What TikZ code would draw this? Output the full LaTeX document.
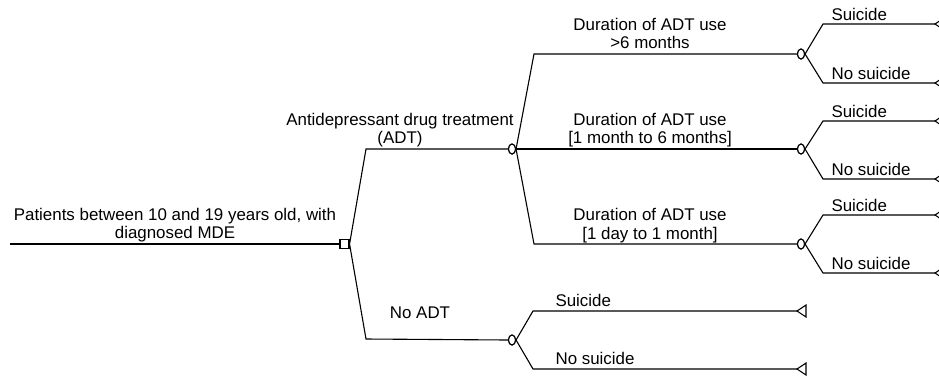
\documentclass[tikz,border=0pt]{standalone}
\usepackage{fontspec}
\setmainfont{Liberation Sans}
\usetikzlibrary{shapes.geometric}
\begin{document}
\begin{tikzpicture}[x=1pt,y=-1pt,
  line width=1.1pt,
  lbl/.style={font=\fontsize{16.9}{18}\selectfont, inner sep=0pt, anchor=base},
  lblw/.style={lbl, anchor=base west},
  decis/.style={draw, rectangle, fill=white, minimum size=9pt, inner sep=0pt},
  chance/.style={draw, ellipse, fill=white, minimum width=7pt, minimum height=10pt, inner sep=0pt},
  termtri/.style={draw, line join=miter}
]
\useasboundingbox (0,0) rectangle (939,376);

% nodes
\coordinate (root) at (10,244);
\node[decis] (sq) at (344.5,244) {};
\node[chance] (cA) at (512,149) {};
\node[chance] (cN) at (512,340) {};
\node[chance] (c1) at (801,54) {};
\node[chance] (c2) at (801,149) {};
\node[chance] (c3) at (801,244) {};

% bend points
\coordinate (kA) at (366,149);
\coordinate (kN) at (366,339);
\coordinate (k1) at (534,54);
\coordinate (k3) at (534,244);
\coordinate (n1) at (533,311);
\coordinate (n2) at (533,369);
\coordinate (s1) at (823,24);
\coordinate (s2) at (823,83);
\coordinate (s3) at (823,121);
\coordinate (s4) at (823,179);
\coordinate (s5) at (823,215);
\coordinate (s6) at (823,273);

% terminal tips
\coordinate (t1) at (935,24);
\coordinate (t2) at (935,83);
\coordinate (t3) at (935,121);
\coordinate (t4) at (935,179);
\coordinate (t5) at (935,215);
\coordinate (t6) at (935,273);
\coordinate (tN1) at (797,311);
\coordinate (tN2) at (797,369);

% connectors
\draw (root) -- (sq.west);
\draw (sq.east) -- (kA) -- (cA.west);
\draw (sq.east) -- (kN) -- (cN.west);
\draw (cA.east) -- (k1) -- (c1.west);
\draw (cA.east) -- (c2.west);
\draw (cA.east) -- (k3) -- (c3.west);
\draw (cN.east) -- (n1) -- (tN1);
\draw (cN.east) -- (n2) -- (tN2);
\draw (c1.east) -- (s1) -- (t1);
\draw (c1.east) -- (s2) -- (t2);
\draw (c2.east) -- (s3) -- (t3);
\draw (c2.east) -- (s4) -- (t4);
\draw (c3.east) -- (s5) -- (t5);
\draw (c3.east) -- (s6) -- (t6);

% redraw node shapes on top
\node[decis] at (sq) {};
\node[chance] at (cA) {};
\node[chance] at (cN) {};
\node[chance] at (c1) {};
\node[chance] at (c2) {};
\node[chance] at (c3) {};

% terminal triangles
\foreach \t in {t1,t2,t3,t4,t5,t6,tN1,tN2}
  \draw[termtri] (\t) -- ++(9,-6) -- ++(0,12) -- cycle;

% labels
\node[lbl] (r1) at (175,220) {Patients between 10 and 19 years old, with};
\node[lbl] (r2) at (175,238) {diagnosed MDE};
\node[lbl] (a1) at (400,125) {Antidepressant drug treatment};
\node[lbl] (a2) at (400,143) {(ADT)};
\node[lbl] (na) at (420,318) {No ADT};
\node[lbl] (d1a) at (650,30) {Duration of ADT use};
\node[lbl] (d1b) at (650,48) {>6 months};
\node[lbl] (d2a) at (650,125) {Duration of ADT use};
\node[lbl] (d2b) at (650,143) {[1 month to 6 months]};
\node[lbl] (d3a) at (650,220) {Duration of ADT use};
\node[lbl] (d3b) at (650,239) {[1 day to 1 month]};
\node[lblw] (u1) at (831,20) {Suicide};
\node[lblw] (u2) at (831,79) {No suicide};
\node[lblw] (u3) at (831,117) {Suicide};
\node[lblw] (u4) at (831,175) {No suicide};
\node[lblw] (u5) at (831,211) {Suicide};
\node[lblw] (u6) at (831,269) {No suicide};
\node[lblw] (v1) at (555,306) {Suicide};
\node[lblw] (v2) at (555,364) {No suicide};
\end{tikzpicture}
\end{document}
